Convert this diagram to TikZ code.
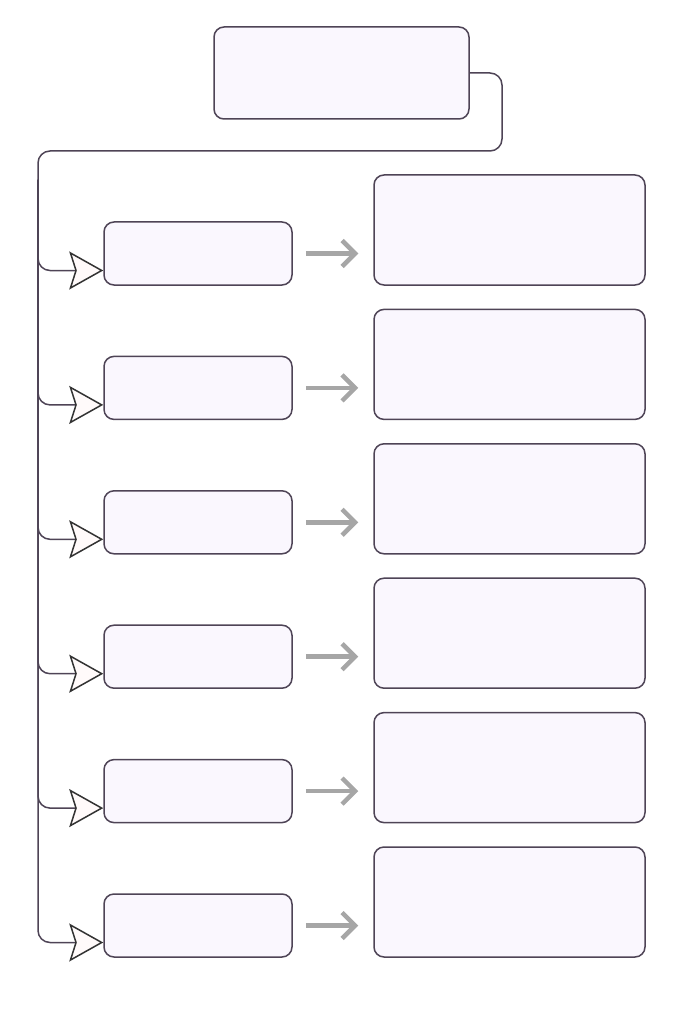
\documentclass[tikz,border=0pt]{standalone}
\usetikzlibrary{arrows.meta}
\definecolor{boxfill}{HTML}{FAF7FE}
\definecolor{boxline}{HTML}{4E4456}
\definecolor{arrgray}{HTML}{A6A6A6}
\begin{document}
\begin{tikzpicture}[x=1pt,y=-1pt,
 box/.style={draw=boxline,fill=boxfill,line width=1.5pt,rounded corners=10pt,inner sep=0pt},
 link/.style={draw=boxline,line width=1.5pt,rounded corners=12pt},
 openhead/.style={-{Stealth[length=34pt,width=38pt,inset=6pt,fill=white!98!red,color=black!80]}},
 grayarr/.style={draw=arrgray,line width=4.5pt,-{Straight Barb[length=13pt,width=26pt]},shorten <=13pt,shorten >=15pt}]
\useasboundingbox (0,0) rectangle (683,1024);
\node[box,minimum width=255pt,minimum height=92pt] (top) at (341.5,73) {};
\coordinate (bus) at (38,180);
\draw[link] (top.east) -- (502,73) -- (502,151) -- (38,151) -- (bus);
\foreach \i in {1,...,6} {
 \path (198,{253.5+134.4*(\i-1)}) node[box,minimum width=188pt,minimum height=63pt] (s\i) {}
  (509.5,{230+134.4*(\i-1)}) node[box,minimum width=271pt,minimum height=110pt] (r\i) {};
 \draw[link,openhead] (bus) |- ([yshift=-17pt]s\i.west);
 \draw[grayarr] (s\i.east) -- (s\i.east -| r\i.west);
}
\end{tikzpicture}
\end{document}
